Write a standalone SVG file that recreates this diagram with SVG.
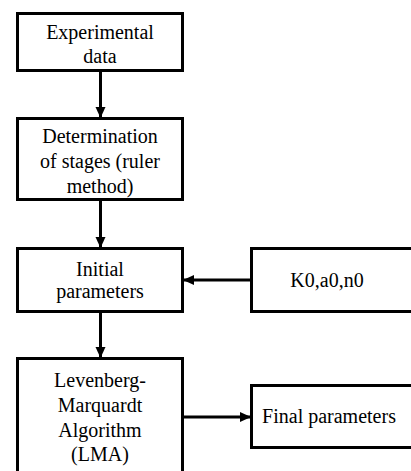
<svg xmlns="http://www.w3.org/2000/svg" width="411" height="471" viewBox="0 0 411 471">
<style>
.box{fill:#fff;stroke:#000;stroke-width:3}
.t{font-family:"Liberation Serif","Times New Roman",serif;font-size:20px;fill:#000;text-anchor:middle}
.c{stroke:#000;stroke-width:3;fill:none}
</style>
<defs>
<marker id="ah" markerWidth="12" markerHeight="12" refX="10" refY="5" orient="auto" markerUnits="userSpaceOnUse">
<path d="M0,0 L11,5 L0,10 Z" fill="#000"/>
</marker>
</defs>
<rect width="411" height="471" fill="#fff"/>
<g id="n1"><rect class="box" x="17.5" y="13.5" width="165" height="57"/>
<text class="t" x="100" y="39">Experimental</text><text class="t" x="100" y="63">data</text></g>
<g id="n2"><rect class="box" x="17.5" y="118.5" width="165" height="81"/>
<text class="t" x="100" y="143">Determination</text><text class="t" x="100" y="168">of stages (ruler</text><text class="t" x="100" y="193">method)</text></g>
<g id="n3"><rect class="box" x="17.5" y="248.5" width="165" height="63"/>
<text class="t" x="100" y="276">Initial</text><text class="t" x="100" y="298">parameters</text></g>
<g id="n4"><rect class="box" x="251.5" y="248.5" width="165" height="63"/>
<text class="t" x="327" y="287">K0,a0,n0</text></g>
<g id="n5"><rect class="box" x="17.5" y="358.5" width="165" height="125"/>
<text class="t" x="100" y="387">Levenberg-</text><text class="t" x="100" y="412">Marquardt</text><text class="t" x="100" y="437">Algorithm</text><text class="t" x="100" y="461">(LMA)</text></g>
<g id="n6"><rect class="box" x="251.5" y="385.5" width="165" height="62"/>
<text class="t" x="329" y="423">Final parameters</text></g>
<g id="connectors">
<line class="c" x1="100.5" y1="71" x2="100.5" y2="117" marker-end="url(#ah)"/>
<line class="c" x1="100.5" y1="200" x2="100.5" y2="247" marker-end="url(#ah)"/>
<line class="c" x1="251" y1="280" x2="184" y2="280" marker-end="url(#ah)"/>
<line class="c" x1="100.5" y1="312" x2="100.5" y2="357" marker-end="url(#ah)"/>
<line class="c" x1="183" y1="417" x2="250" y2="417" marker-end="url(#ah)"/>
</g>
</svg>
